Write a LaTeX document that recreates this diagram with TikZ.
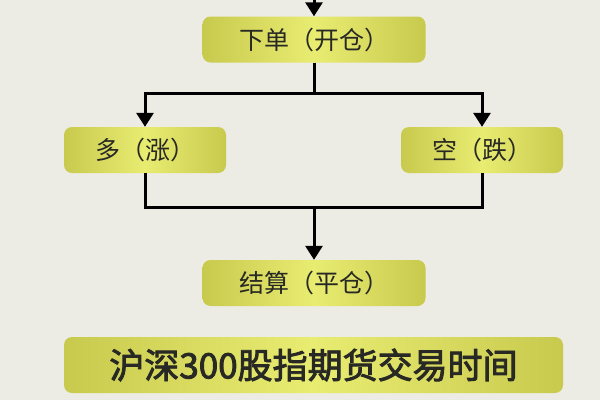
\documentclass[tikz,border=0pt]{standalone}
\usepackage{fontspec}
\usepackage{tikz}
\usetikzlibrary{positioning,arrows.meta}
\newfontfamily\cjk{Noto Sans CJK SC}
\newfontfamily\cjkbold[FakeBold=2.5]{Noto Sans CJK SC}
\definecolor{colorbg}   {RGB}{236,236,228}
\definecolor{colorbox}  {RGB}{232,236,112}
\definecolor{coloredge} {RGB}{200,202,78}
\definecolor{colortext} {RGB}{40 ,40 ,36 }

\begin{document}
\begin{tikzpicture}[
    x=1pt, y=-1pt,
    base/.style={text=colortext,font={\cjk\fontsize{25}{25}\selectfont},rounded corners=8pt,
                 left color=coloredge,right color=coloredge,middle color=colorbox,
                 minimum height=46pt,inner sep=0pt},
    stepbox/.style={base,minimum width=223pt},
    sidebox/.style={base,minimum width=162pt},
    banner/.style={base,minimum width=499pt,minimum height=56pt,
                   font={\cjkbold\fontsize{35}{35}\selectfont}},
    conn/.style={line width=3pt,black},
    arr/.style={conn,-{Triangle[length=14pt,width=17pt]}},
]

    % Background
    \fill[colorbg] (0,0) rectangle (600,400);
    \useasboundingbox (0,0) rectangle (600,400);

    % Nodes
    \node[stepbox] (open)   at (314,39.5)  {下单（开仓）};
    \node[sidebox] (long)   at (145,150)   {多（涨）};
    \node[sidebox] (short)  at (482,150)   {空（跌）};
    \node[stepbox] (settle) at (314,283)   {结算（平仓）};
    \node[banner]  (title)  at (313.5,365) {沪深300股指期货交易时间};
    \coordinate (start) at (314,-3);

    % Arrows
    \draw[arr] (start) -- (open.north);
    \draw[arr] (open.south) -- ++(0,31) -| (long.north);
    \draw[arr] (open.south) -- ++(0,31) -| (short.north);
    \draw[conn] (long.south) |- (314,207) -| (short.south);
    \draw[arr] (314,207) -- (settle.north);

\end{tikzpicture}
\end{document}
